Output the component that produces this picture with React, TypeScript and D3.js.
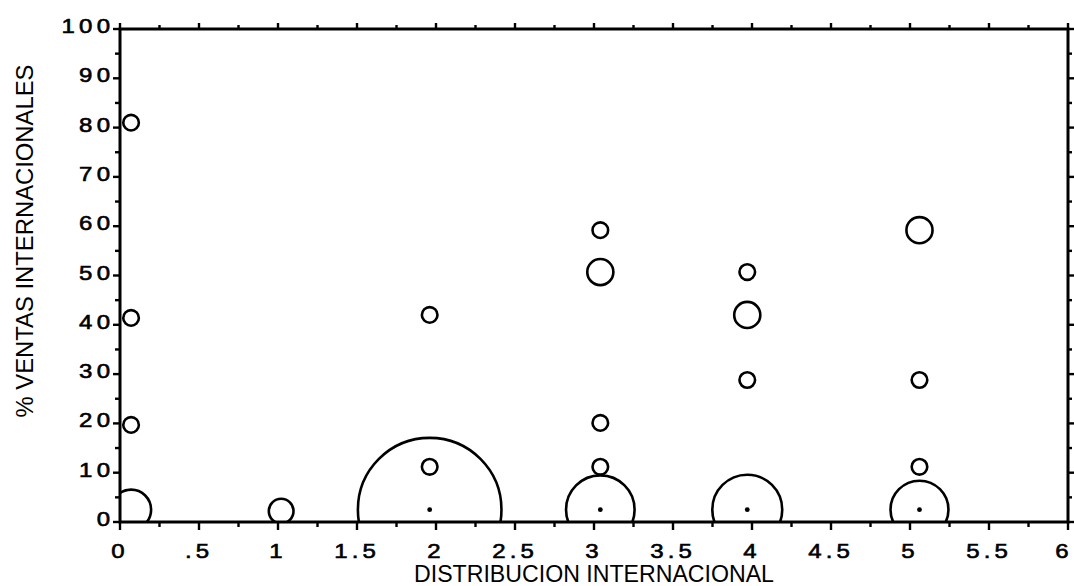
import React from "react";
import * as d3 from "d3";

const W = 1074;
const H = 586;
const plot = { left: 120, right: 1068, top: 29, bottom: 522 };

// Axis ticks
const xMajor = d3.range(0, 6.001, 0.5);
const xMinor = d3.range(0, 6.001, 0.25);
const yMajor = d3.range(0, 100.001, 10);
const yMinor = d3.range(0, 100.001, 5);

// Individual companies (open rings)
const ringX = [0.07, 0.07, 0.07, 1.96, 1.96, 3.04, 3.04, 3.04, 3.04, 3.97, 3.97, 3.97, 5.06, 5.06, 5.06];
const ringY = [81, 41.4, 19.7, 42, 11.2, 59.2, 50.7, 20.1, 11.2, 50.7, 42, 28.8, 59.2, 28.8, 11.2];
const ringN = [1, 1, 1, 1, 1, 1, 2.8, 1, 1, 1, 2.8, 1, 2.8, 1, 1];

// Groups of companies with almost no international sales
const groupX = [0.07, 1.02, 1.96, 3.04, 3.97, 5.06];
const groupY = [2.5, 2.2, 2.5, 2.5, 2.5, 2.5];
const groupN = [6.6, 2.5, 84.7, 19.3, 20.1, 13.8];
const groupDot = [false, false, true, true, true, true];

const X_TITLE = "DISTRIBUCION INTERNACIONAL";
const Y_TITLE = "% VENTAS INTERNACIONALES";

const fmtX = (d: number) => String(d).replace(/^0\./, ".");

export default function App() {
  const x = d3.scaleLinear().domain([0, 6]).range([plot.left, plot.right]);
  const y = d3.scaleLinear().domain([0, 100]).range([plot.bottom, plot.top]);
  const r = d3.scaleSqrt().domain([0, 1]).range([0, 7.8]);

  const font = "'Liberation Sans', Arial, Helvetica, sans-serif";
  const ls = 3.5; // letter spacing of tick labels
  const sx = 1.2; // horizontal widening of tick labels
  const isMajorX = (d: number) => Math.abs(d * 2 - Math.round(d * 2)) < 1e-6;
  const isMajorY = (d: number) => d % 10 === 0;
  // keep the last x label inside the drawing
  const xLabelPos = (d: number) => Math.min(x(d) - 2 + (ls * sx) / 2, W - 10);

  return (
    <svg
      width={W}
      height={H}
      style={{ position: "absolute", left: 0, top: 0, background: "#fff" }}
      fontFamily={font}
    >
      <defs>
        <clipPath id="plotClip">
          <rect x={plot.left} y={plot.top} width={plot.right - plot.left} height={plot.bottom - plot.top} />
        </clipPath>
      </defs>

      {/* bubbles */}
      <g clipPath="url(#plotClip)" fill="none" stroke="#000" strokeWidth={2.6}>
        {groupX.map((gx, i) => (
          <circle key={"g" + i} cx={x(gx)} cy={y(groupY[i])} r={r(groupN[i])} />
        ))}
        {ringX.map((rx, i) => (
          <circle key={"r" + i} cx={x(rx)} cy={y(ringY[i])} r={r(ringN[i])} />
        ))}
        {groupX.map((gx, i) =>
          groupDot[i] ? (
            <circle key={"d" + i} cx={x(gx)} cy={y(groupY[i])} r={2.4} fill="#000" stroke="none" />
          ) : null
        )}
      </g>

      {/* frame */}
      <rect
        x={plot.left}
        y={plot.top}
        width={plot.right - plot.left}
        height={plot.bottom - plot.top}
        fill="none"
        stroke="#000"
        strokeWidth={3}
      />

      {/* ticks on all four sides */}
      <g stroke="#000" strokeWidth={2.4}>
        {xMinor.map((d, i) => (
          <line key={"bt" + i} x1={x(d)} x2={x(d)} y1={plot.bottom} y2={plot.bottom + (isMajorX(d) ? 8 : 5)} />
        ))}
        {xMinor.map((d, i) => (
          <line key={"tt" + i} x1={x(d)} x2={x(d)} y1={plot.top} y2={plot.top - (isMajorX(d) ? 6 : 4)} />
        ))}
        {yMinor.map((d, i) => (
          <line key={"lt" + i} x1={plot.left} x2={plot.left - (isMajorY(d) ? 7 : 5)} y1={y(d)} y2={y(d)} />
        ))}
        {yMinor.map((d, i) => (
          <line key={"rt" + i} x1={plot.right} x2={plot.right + (isMajorY(d) ? 6 : 4)} y1={y(d)} y2={y(d)} />
        ))}
      </g>

      {/* tick labels */}
      <g fontSize={20} fill="#000" stroke="#000" strokeWidth={0.6}>
        {xMajor.map((d, i) => (
          <text
            key={"xl" + i}
            transform={`translate(${xLabelPos(d)},558) scale(${sx},1)`}
            textAnchor="middle"
            letterSpacing={ls}
          >
            {fmtX(d)}
          </text>
        ))}
        {yMajor.map((d, i) => (
          <text
            key={"yl" + i}
            transform={`translate(${110 + ls * sx},${y(d) + 4}) scale(${sx},1)`}
            textAnchor="end"
            letterSpacing={ls}
          >
            {String(d)}
          </text>
        ))}
      </g>

      {/* axis titles */}
      <text x={x(3)} y={582} fontSize={23} textAnchor="middle" fill="#000" textLength={360} lengthAdjust="spacingAndGlyphs">
        {X_TITLE}
      </text>
      <text
        transform="translate(33,241) rotate(-90)"
        fontSize={24}
        textAnchor="middle"
        fill="#000"
        textLength={353}
        lengthAdjust="spacingAndGlyphs"
      >
        {Y_TITLE}
      </text>
    </svg>
  );
}
